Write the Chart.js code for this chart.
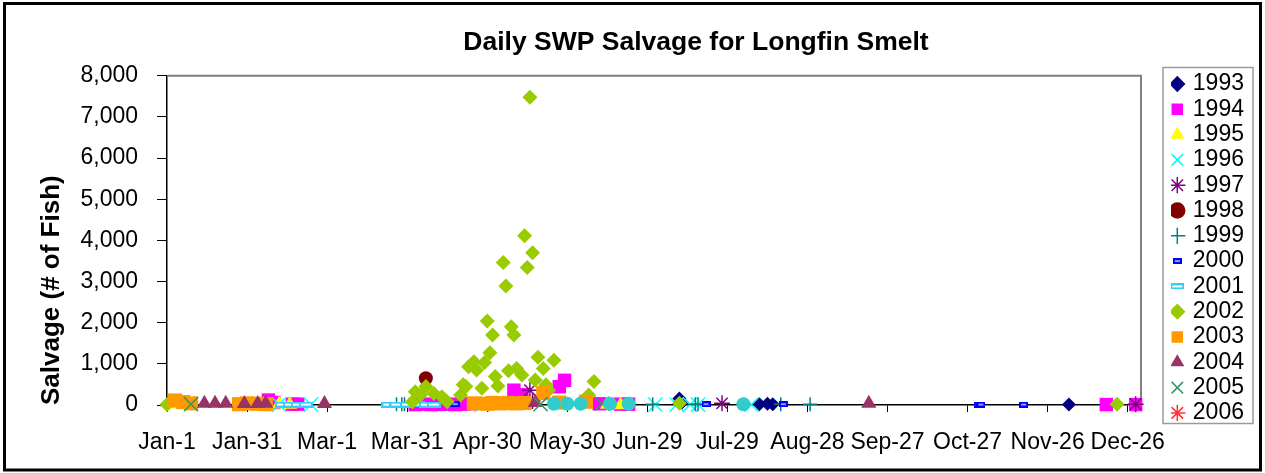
<!DOCTYPE html>
<html>
<head>
<meta charset="utf-8">
<script src="https://cdn.jsdelivr.net/npm/chart.js@4.4.1/dist/chart.umd.min.js"></script>
<style>
html,body{margin:0;padding:0;background:#fff;}
canvas{display:block;}
</style>
</head>
<body>
<canvas id="c" width="1265" height="473"></canvas>
<script>
// ---------- data (day of year counted from Jan-1 = 0, salvage in # of fish) ----------
const xTickLabels = ["Jan-1","Jan-31","Mar-1","Mar-31","Apr-30","May-30","Jun-29","Jul-29","Aug-28","Sep-27","Oct-27","Nov-26","Dec-26"];
const years = ["1993","1994","1995","1996","1997","1998","1999","2000","2001","2002","2003","2004","2005","2006","2007"];

const days1993 = [108, 192, 193, 222, 225, 227, 338];
const vals1993 = [20, 160, 60, 20, 30, 20, 10];

const days1994 = [38, 40, 47, 49, 93, 96, 99, 102, 105, 108, 111, 114, 130, 133, 147, 149, 162, 170, 173, 352, 363];
const vals1994 = [120, 60, 20, 20, 10, 20, 10, 15, 20, 10, 20, 30, 360, 250, 445, 600, 30, 20, 20, 10, 10];

const days1995 = [1, 42, 46, 115, 165, 170];
const vals1995 = [20, 20, 10, 0, 10, 0];

const days1996 = [42, 54, 118, 183, 191, 196, 199, 219];
const vals1996 = [10, 10, 10, 10, 10, 10, 10, 10];

const days1997 = [136, 137, 208, 363];
const vals1997 = [360, 100, 40, 20];

const days1998 = [97];
const vals1998 = [650];

const days1999 = [86, 88, 89, 182, 198, 199, 230, 241];
const vals1999 = [20, 20, 20, 20, 20, 20, 20, 20];

const days2000 = [50, 106, 108, 202, 231, 304, 305, 321];
const vals2000 = [10, 20, 20, 20, 20, 10, 10, 10];

const days2001 = [43, 46, 49, 52, 83, 86, 90, 94, 97, 100];
const vals2001 = [10, 10, 10, 10, 10, 10, 10, 15, 10, 10];

const days2002 = [0, 92, 93, 95, 97, 100, 103, 105, 110, 111, 112, 113, 115, 116, 118, 119, 120, 121, 122, 123, 124, 126, 127, 128, 129, 130, 131, 133, 134, 135, 136, 137, 138, 139, 141, 142, 143, 145, 158, 160, 192, 356];
const vals2002 = [10, 80, 320, 240, 450, 280, 200, 80, 240, 490, 450, 930, 1050, 850, 410, 1030, 2040, 1270, 1700, 690, 460, 3460, 2890, 830, 1900, 1700, 890, 730, 4110, 3340, 7480, 3700, 610, 1160, 890, 490, 360, 1090, 240, 570, 40, 20];

const days2003 = [3, 6, 9, 27, 30, 34, 37, 115, 120, 122, 125, 128, 131, 134, 141, 147, 157];
const vals2003 = [110, 70, 40, 20, 40, 30, 20, 40, 30, 50, 40, 50, 40, 50, 290, 60, 80];

const days2004 = [14, 18, 22, 29, 34, 37, 59, 138, 263];
const vals2004 = [40, 40, 40, 30, 30, 40, 30, 60, 40];

const days2005 = [9, 140, 163];
const vals2005 = [20, 20, 30];

const days2006 = [];
const vals2006 = [];

const days2007 = [145, 150, 155, 166, 173, 216];
const vals2007 = [30, 30, 30, 30, 30, 20];

const dayLists = [days1993, days1994, days1995, days1996, days1997, days1998, days1999, days2000, days2001, days2002, days2003, days2004, days2005, days2006, days2007];
const valLists = [vals1993, vals1994, vals1995, vals1996, vals1997, vals1998, vals1999, vals2000, vals2001, vals2002, vals2003, vals2004, vals2005, vals2006, vals2007];

// ---------- marker styles ----------
function dashMarker(w, h, outer, inner, inset) {
  const c = document.createElement('canvas');
  c.width = w; c.height = h;
  const g = c.getContext('2d');
  g.fillStyle = outer; g.fillRect(0, 0, w, h);
  g.fillStyle = inner; g.fillRect(inset, inset, w - 2 * inset, h - 2 * inset);
  return c;
}
const marker2000 = dashMarker(9, 6, '#0000FF', '#8f9cff', 2);
const marker2001 = dashMarker(14, 6, '#33CCFF', '#FFFFFF', 2);

const seriesStyles = [
  {style: 'rectRot',  color: '#000080', r: 7,   bw: 0},
  {style: 'rect',     color: '#FF00FF', r: 9.5, bw: 0},
  {style: 'triangle', color: '#FFFF00', r: 8.5, bw: 0},
  {style: 'crossRot', color: '#00FFFF', r: 10,  bw: 1.5},
  {style: 'star',     color: '#800080', r: 8,   bw: 1.5},
  {style: 'circle',   color: '#800000', r: 7,   bw: 0},
  {style: 'cross',    color: '#008080', r: 7,   bw: 1.5},
  {style: marker2000, color: '#0000FF', r: 5,   bw: 0},
  {style: marker2001, color: '#33CCFF', r: 5,   bw: 0},
  {style: 'rectRot',  color: '#99CC00', r: 7.5, bw: 0},
  {style: 'rect',     color: '#FF9900', r: 10,  bw: 0},
  {style: 'triangle', color: '#993366', r: 8.7, bw: 0},
  {style: 'crossRot', color: '#339966', r: 10,  bw: 1.5},
  {style: 'star',     color: '#FF3333', r: 8,   bw: 1.5},
  {style: 'circle',   color: '#33CCCC', r: 7,   bw: 0}
];

const datasets = years.map((yr, i) => {
  const s = seriesStyles[i];
  return {
    label: yr,
    data: dayLists[i].map((d, j) => ({x: d, y: valLists[i][j]})),
    pointStyle: s.style,
    pointRadius: s.r,
    pointHoverRadius: s.r,
    backgroundColor: s.color,
    borderColor: s.color,
    borderWidth: s.bw,
    showLine: false,
    clip: false,
    order: -i
  };
});

const FONT = "'Liberation Sans', Arial, Helvetica, sans-serif";
Chart.defaults.font.family = FONT;
Chart.defaults.color = '#000';

const decor = {
  id: 'decor',
  afterLayout(chart) {
    const t = chart.titleBlock;
    if (t) { const dx = 696 - (t.left + t.right) / 2; t.left += dx; t.right += dx; }
    const lg = chart.legend;
    if (lg) { lg.left = 1171; lg.right = 1260; lg.top = 70.2; lg.bottom = 468; }
  },
  beforeDraw(chart) {
    const ctx = chart.ctx;
    ctx.save();
    ctx.fillStyle = '#fff';
    ctx.fillRect(0, 0, chart.width, chart.height);
    ctx.restore();
  },
  beforeDatasetsDraw(chart) {
    const {ctx, chartArea: a} = chart;
    ctx.save();
    ctx.strokeStyle = '#808080';
    ctx.lineWidth = 2;
    ctx.beginPath();
    ctx.moveTo(a.left, a.top);
    ctx.lineTo(a.right, a.top);
    ctx.lineTo(a.right, a.bottom);
    ctx.stroke();
    ctx.restore();
  },
  afterDraw(chart) {
    const ctx = chart.ctx;
    ctx.save();
    ctx.strokeStyle = '#9a9a9a';
    ctx.lineWidth = 1.5;
    ctx.strokeRect(1163, 67.5, 90, 356);
    ctx.strokeStyle = '#000';
    ctx.lineWidth = 3;
    ctx.strokeRect(4.5, 3.5, 1256, 466.5);
    ctx.restore();
  }
};

new Chart(document.getElementById('c'), {
  type: 'scatter',
  data: {datasets},
  options: {
    responsive: false,
    animation: false,
    devicePixelRatio: 1,
    events: [],
    layout: {padding: {left: 10, right: 124, top: 0, bottom: 8}},
    plugins: {
      tooltip: {enabled: false},
      title: {
        display: true,
        text: 'Daily SWP Salvage for Longfin Smelt',
        font: {size: 26.5, weight: 'bold'},
        color: '#000',
        padding: {top: 27, bottom: 17}
      },
      legend: {
        display: true,
        position: 'chartArea',
        align: 'start',
        labels: {
          usePointStyle: true,
          boxWidth: 8,
          boxHeight: 11.5,
          padding: 2.3,
          font: {size: 23},
          color: '#000',
          sort: (a, b) => a.datasetIndex - b.datasetIndex,
          filter: (item) => item.text !== '2007'
        }
      }
    },
    scales: {
      x: {
        type: 'linear',
        min: 0,
        max: 365,
        ticks: {
          stepSize: 30,
          maxTicksLimit: 50,
          includeBounds: false,
          autoSkip: false,
          maxRotation: 0,
          minRotation: 0,
          padding: 17,
          font: {size: 23},
          color: '#000',
          callback: (v) => xTickLabels[Math.round(v / 30)] ?? ''
        },
        grid: {drawOnChartArea: false, drawTicks: true, tickLength: 7, color: '#000', lineWidth: 1},
        border: {display: true, color: '#000', width: 1.5},
        afterFit: (s) => { s.height = 60; }
      },
      y: {
        min: 0,
        max: 8000,
        ticks: {
          stepSize: 1000,
          padding: 19,
          font: {size: 23},
          color: '#000',
          callback: (v) => v.toLocaleString('en-US')
        },
        grid: {drawOnChartArea: false, drawTicks: true, tickLength: 10, color: '#000', lineWidth: 1},
        border: {display: true, color: '#000', width: 1.5},
        title: {
          display: true,
          text: 'Salvage (# of Fish)',
          font: {size: 26, weight: 'bold'},
          color: '#000',
          align: 'start',
          padding: {top: 26, bottom: 0}
        },
        afterFit: (s) => { s.width = 157; }
      }
    }
  },
  plugins: [decor]
});
</script>
</body>
</html>
